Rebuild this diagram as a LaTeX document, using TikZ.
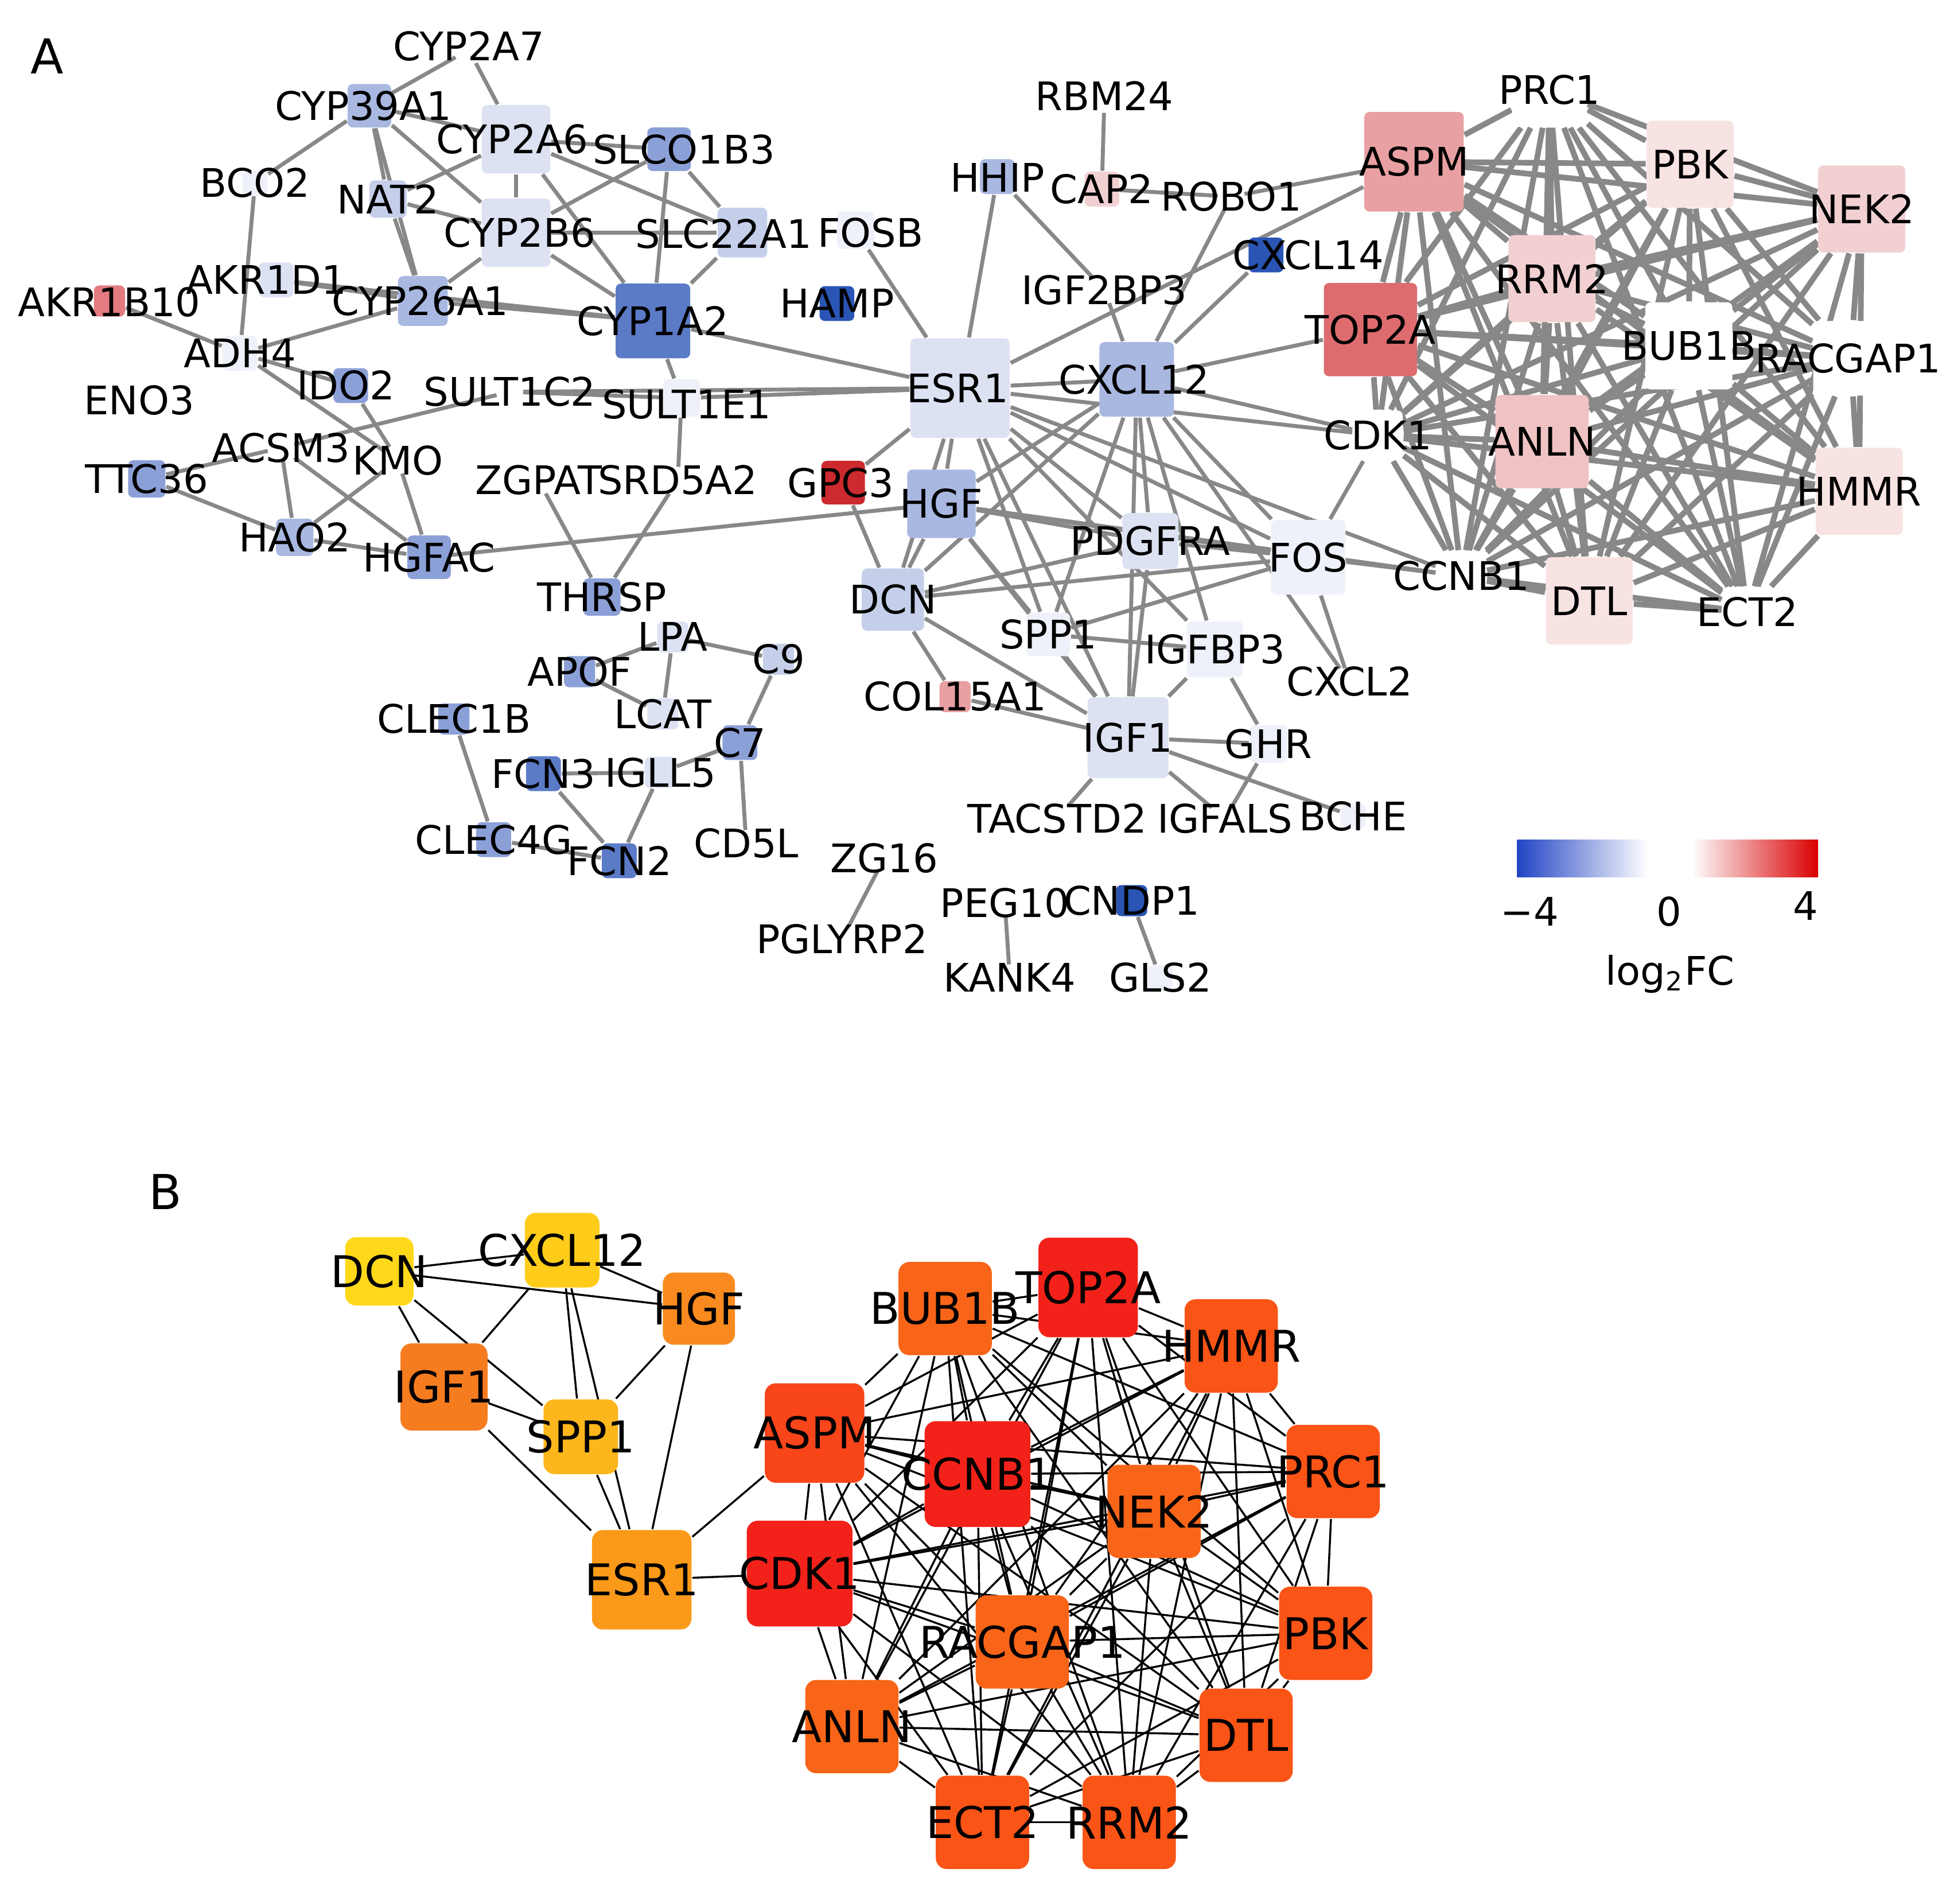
\documentclass[tikz,border=0pt]{standalone}
\usepackage{fontspec}
\setmainfont{DejaVu Sans}
\usetikzlibrary{backgrounds}
\definecolor{ea}{HTML}{888888}
\definecolor{bw}{HTML}{FFFFFF}
\definecolor{b1}{HTML}{EEF1F9}
\definecolor{b2}{HTML}{DCE2F2}
\definecolor{b3}{HTML}{C5CFEA}
\definecolor{b4}{HTML}{A9B8E1}
\definecolor{b5}{HTML}{8CA0D8}
\definecolor{b6}{HTML}{5B7BC7}
\definecolor{b7}{HTML}{2A55B5}
\definecolor{r1}{HTML}{F8E3E3}
\definecolor{r2}{HTML}{F2D0D1}
\definecolor{r3}{HTML}{EFC3C4}
\definecolor{r4}{HTML}{E8A0A2}
\definecolor{r5}{HTML}{DE6C6F}
\definecolor{r6}{HTML}{E37B80}
\definecolor{r7}{HTML}{CC2A2E}
\definecolor{oy}{HTML}{FFD81A}
\definecolor{oy2}{HTML}{FFCC1A}
\definecolor{oy3}{HTML}{FDB61C}
\definecolor{oo1}{HTML}{FB9A1A}
\definecolor{oo2}{HTML}{F98A1F}
\definecolor{oo3}{HTML}{F57C1F}
\definecolor{oo4}{HTML}{F86518}
\definecolor{oo5}{HTML}{FA5417}
\definecolor{oo6}{HTML}{F8451A}
\definecolor{rr}{HTML}{F2221A}
\tikzset{
 boxA/.style={rectangle,rounded corners=1.2pt,inner sep=0pt,draw=none},
 labA/.style={inner sep=0pt,font=\fontsize{9}{10}\selectfont},
 boxB/.style={rectangle,rounded corners=2.5pt,inner sep=0pt,draw=none},
 labB/.style={inner sep=0pt,font=\fontsize{10}{11}\selectfont},
 edgeA/.style={draw=ea,line width=0.9pt},
 edgeC/.style={draw=ea,line width=1.3pt},
 edgeB/.style={draw=black,line width=0.45pt}
}
\newcommand\gn[7]{\node[boxA,minimum size=#4*0.01cm,fill=#5] (#1) at (#2,#3) {};\node[labA] at (#6,#7) {#1};}
\newcommand\gb[5]{\node[boxB,minimum size=#4*0.01cm,fill=#5] (B#1) at (#2,#3) {};\node[labB] at (#2,#3) {#1};}
\begin{document}
\begin{tikzpicture}[x=0.01cm,y=-0.01cm]
\useasboundingbox (0,0) rectangle (1568,1530.6);
\node[font=\fontsize{11}{12}\selectfont] at (38,45) {A};
\node[font=\fontsize{11}{12}\selectfont] at (133,958) {B};
% panel A nodes
\gn{CYP2A7}{377}{40}{20}{bw}{377}{37}
\gn{CYP39A1}{297}{85}{35}{b4}{292}{85}
\gn{CYP2A6}{415}{112}{55}{b2}{412}{112}
\gn{SLCO1B3}{538}{120}{35}{b5}{550}{120}
\gn{BCO2}{205}{147}{20}{b1}{205}{147}
\gn{NAT2}{312}{160}{30}{b3}{312}{160}
\gn{CYP2B6}{415}{187}{55}{b2}{418}{187}
\gn{SLC22A1}{597}{187}{40}{b3}{582}{188}
\gn{FOSB}{688}{185}{30}{b1}{700}{187}
\gn{AKR1D1}{222}{225}{28}{b2}{214}{225}
\gn{CYP26A1}{340}{242}{40}{b4}{338}{242}
\gn{CYP1A2}{525}{258}{60}{b6}{525}{258}
\gn{HAMP}{673}{244}{28}{b7}{673}{244}
\gn{AKR1B10}{88}{242}{25}{r6}{88}{243}
\gn{ADH4}{193}{284}{28}{b1}{193}{284}
\gn{ENO3}{112}{322}{20}{bw}{112}{322}
\gn{IDO2}{282}{310}{28}{b5}{278}{310}
\gn{SULT1C2}{410}{315}{20}{bw}{410}{315}
\gn{SULT1E1}{548}{320}{30}{b1}{552}{325}
\gn{ESR1}{772}{312}{80}{b2}{770}{312}
\gn{CXCL12}{914}{305}{60}{b4}{912}{305}
\gn{HHIP}{802}{142}{28}{b4}{802}{143}
\gn{RBM24}{888}{80}{20}{bw}{888}{77}
\gn{CAP2}{886}{152}{28}{r2}{886}{152}
\gn{ROBO1}{990}{158}{20}{bw}{990}{158}
\gn{CXCL14}{1018}{205}{28}{b7}{1052}{205}
\gn{IGF2BP3}{888}{233}{20}{bw}{888}{233}
\gn{TOP2A}{1102}{265}{75}{r5}{1102}{265}
\gn{ASPM}{1137}{130}{80}{r4}{1137}{130}
\gn{PRC1}{1246}{72}{60}{bw}{1246}{72}
\gn{PBK}{1359}{132}{70}{r1}{1359}{132}
\gn{NEK2}{1497}{168}{70}{r2}{1497}{168}
\gn{RRM2}{1248}{224}{70}{r2}{1248}{224}
\gn{BUB1B}{1358}{278}{70}{bw}{1358}{278}
\gn{RACGAP1}{1488}{288}{60}{bw}{1486}{288}
\gn{ANLN}{1240}{355}{75}{r3}{1240}{355}
\gn{CDK1}{1108}{350}{40}{bw}{1108}{350}
\gn{HMMR}{1495}{395}{70}{r1}{1495}{395}
\gn{DTL}{1278}{483}{70}{r1}{1278}{483}
\gn{ECT2}{1405}{492}{40}{bw}{1405}{492}
\gn{CCNB1}{1175}{463}{40}{bw}{1175}{463}
\gn{FOS}{1052}{448}{60}{b1}{1052}{448}
\gn{PDGFRA}{925}{435}{45}{b2}{925}{435}
\gn{GPC3}{678}{388}{35}{r7}{676}{388}
\gn{HGF}{757}{405}{55}{b4}{757}{405}
\gn{DCN}{718}{482}{50}{b3}{718}{482}
\gn{SPP1}{843}{510}{35}{b1}{843}{510}
\gn{IGFBP3}{977}{522}{45}{b1}{977}{522}
\gn{CXCL2}{1085}{548}{20}{bw}{1085}{548}
\gn{COL15A1}{768}{560}{25}{r4}{768}{560}
\gn{IGF1}{907}{593}{65}{b2}{907}{593}
\gn{GHR}{1020}{598}{30}{b1}{1020}{598}
\gn{BCHE}{1088}{656}{20}{b1}{1088}{656}
\gn{TACSTD2}{850}{658}{20}{bw}{850}{658}
\gn{IGFALS}{985}{658}{20}{bw}{985}{658}
\gn{ZGPAT}{433}{386}{20}{bw}{433}{386}
\gn{SRD5A2}{545}{386}{20}{bw}{545}{386}
\gn{THRSP}{484}{480}{30}{b5}{484}{480}
\gn{LPA}{541}{512}{25}{b2}{541}{512}
\gn{C9}{626}{530}{25}{b3}{626}{530}
\gn{APOF}{466}{540}{25}{b5}{466}{540}
\gn{LCAT}{533}{574}{25}{b2}{533}{574}
\gn{C7}{595}{597}{28}{b5}{595}{597}
\gn{CLEC1B}{365}{578}{25}{b5}{365}{578}
\gn{FCN3}{437}{622}{28}{b6}{437}{622}
\gn{IGLL5}{531}{621}{25}{b2}{531}{621}
\gn{CD5L}{600}{678}{20}{bw}{600}{678}
\gn{CLEC4G}{397}{675}{28}{b5}{397}{675}
\gn{FCN2}{498}{692}{28}{b6}{498}{692}
\gn{ZG16}{711}{690}{20}{bw}{711}{690}
\gn{PGLYRP2}{677}{755}{20}{bw}{677}{755}
\gn{PEG10}{808}{726}{20}{bw}{808}{726}
\gn{CNDP1}{910}{724}{25}{b7}{910}{724}
\gn{KANK4}{812}{786}{20}{bw}{812}{786}
\gn{GLS2}{933}{786}{20}{b1}{933}{786}
\gn{ACSM3}{226}{360}{20}{bw}{226}{360}
\gn{KMO}{320}{370}{20}{bw}{320}{370}
\gn{TTC36}{118}{385}{30}{b5}{118}{385}
\gn{HAO2}{237}{432}{30}{b4}{237}{432}
\gn{HGFAC}{345}{448}{35}{b5}{345}{448}
% panel B nodes
\gb{DCN}{305}{1022}{55}{oy}
\gb{CXCL12}{452}{1005}{60}{oy2}
\gb{HGF}{562}{1052}{58}{oo2}
\gb{IGF1}{357}{1115}{70}{oo3}
\gb{SPP1}{467}{1155}{60}{oy3}
\gb{ESR1}{516}{1270}{80}{oo1}
\gb{BUB1B}{760}{1052}{75}{oo4}
\gb{TOP2A}{875}{1035}{80}{rr}
\gb{HMMR}{990}{1082}{75}{oo5}
\gb{ASPM}{655}{1152}{80}{oo6}
\gb{CCNB1}{786}{1185}{85}{rr}
\gb{NEK2}{928}{1215}{75}{oo4}
\gb{PRC1}{1072}{1183}{75}{oo5}
\gb{CDK1}{643}{1265}{85}{rr}
\gb{PBK}{1066}{1313}{75}{oo5}
\gb{RACGAP1}{822}{1320}{75}{oo4}
\gb{DTL}{1002}{1395}{75}{oo5}
\gb{ANLN}{685}{1388}{75}{oo4}
\gb{ECT2}{790}{1465}{75}{oo5}
\gb{RRM2}{908}{1465}{75}{oo5}
\begin{pgfonlayer}{background}
\foreach \a/\b in {CYP2A7/CYP2A6,CYP2A7/CYP39A1,CYP39A1/CYP2A6,CYP39A1/NAT2,CYP39A1/CYP2B6,CYP39A1/BCO2,CYP39A1/CYP26A1,CYP2A6/SLCO1B3,CYP2A6/CYP2B6,CYP2A6/CYP1A2,CYP2A6/NAT2,CYP2A6/SLC22A1,SLCO1B3/CYP1A2,SLCO1B3/SLC22A1,SLCO1B3/CYP2B6,NAT2/CYP2B6,NAT2/CYP26A1,CYP2B6/CYP1A2,CYP2B6/CYP26A1,CYP2B6/SLC22A1,SLC22A1/CYP1A2,BCO2/ADH4,AKR1D1/CYP26A1,AKR1D1/CYP1A2,CYP26A1/CYP1A2,CYP1A2/ESR1,CYP1A2/SULT1E1,AKR1B10/ADH4,ADH4/CYP26A1,ADH4/KMO,IDO2/KMO,ACSM3/TTC36,ACSM3/HAO2,ACSM3/HGFAC,ACSM3/SULT1C2,KMO/HAO2,KMO/HGFAC,TTC36/HAO2,HAO2/HGFAC,HGFAC/HGF,SULT1C2/ESR1,SULT1E1/ESR1,SULT1C2/SULT1E1,SULT1E1/SRD5A2,ZGPAT/THRSP,SRD5A2/THRSP,ESR1/HHIP,ESR1/CXCL12,ESR1/GPC3,ESR1/HGF,ESR1/DCN,ESR1/PDGFRA,ESR1/FOS,ESR1/CDK1,ESR1/SPP1,ESR1/IGF1,ESR1/IGFBP3,ESR1/CCNB1,ESR1/ASPM,ESR1/FOSB,CXCL12/CXCL14,CXCL12/TOP2A,CXCL12/IGF2BP3,IGF2BP3/HHIP,CAP2/ROBO1,RBM24/CAP2,ROBO1/ASPM,ROBO1/CXCL12,CXCL12/DCN,CXCL12/HGF,CXCL12/SPP1,CXCL12/IGF1,CXCL12/FOS,CXCL12/PDGFRA,CXCL12/CDK1,CXCL12/CXCL2,CXCL12/IGFBP3,HGF/PDGFRA,HGF/FOS,HGF/DCN,HGF/IGF1,HGF/SPP1,HGF/CCNB1,GPC3/DCN,DCN/PDGFRA,DCN/IGF1,DCN/COL15A1,DCN/FOS,PDGFRA/IGF1,PDGFRA/FOS,FOS/CDK1,FOS/CCNB1,FOS/CXCL2,FOS/SPP1,SPP1/IGF1,SPP1/IGFBP3,IGFBP3/IGF1,IGFBP3/GHR,IGF1/GHR,IGF1/TACSTD2,IGF1/IGFALS,IGF1/BCHE,COL15A1/IGF1,GHR/IGFALS,LPA/APOF,LPA/LCAT,LPA/C9,APOF/LCAT,C9/C7,C7/IGLL5,C7/CD5L,IGLL5/FCN3,IGLL5/FCN2,FCN3/FCN2,CLEC1B/CLEC4G,CLEC4G/FCN2,ZG16/PGLYRP2,PEG10/KANK4,CNDP1/GLS2,IDO2/ADH4}
  \draw[edgeA] (\a) -- (\b);
\foreach \a [count=\i] in {ASPM,TOP2A,PRC1,PBK,NEK2,RRM2,BUB1B,RACGAP1,ANLN,HMMR,DTL,ECT2,CCNB1,CDK1}{
  \foreach \b [count=\j] in {ASPM,TOP2A,PRC1,PBK,NEK2,RRM2,BUB1B,RACGAP1,ANLN,HMMR,DTL,ECT2,CCNB1,CDK1}{
    \ifnum\j>\i \draw[edgeC] (\a) -- (\b); \fi }}
\foreach \a/\b in {DCN/CXCL12,DCN/HGF,DCN/IGF1,DCN/SPP1,CXCL12/HGF,CXCL12/IGF1,CXCL12/SPP1,CXCL12/ESR1,HGF/SPP1,HGF/ESR1,IGF1/SPP1,IGF1/ESR1,SPP1/ESR1,ESR1/CDK1,ESR1/ASPM}
  \draw[edgeB] (B\a) -- (B\b);
\foreach \a [count=\i] in {BUB1B,TOP2A,HMMR,ASPM,CCNB1,NEK2,PRC1,CDK1,PBK,RACGAP1,DTL,ANLN,ECT2,RRM2}{
  \foreach \b [count=\j] in {BUB1B,TOP2A,HMMR,ASPM,CCNB1,NEK2,PRC1,CDK1,PBK,RACGAP1,DTL,ANLN,ECT2,RRM2}{
    \ifnum\j>\i \draw[edgeB] (B\a) -- (B\b); \fi }}
\end{pgfonlayer}
% legend
\shade[left color=b7!80!blue,right color=white] (1220,675) rectangle (1325,705);
\shade[left color=white,right color=red!85!black] (1360,675) rectangle (1462,705);
\node[labA] at (1230,733) {−4};
\node[labA] at (1342,733) {0};
\node[labA] at (1452,728) {4};
\node[labA] at (1343,783) {log\textsubscript{2}FC};
\end{tikzpicture}
\end{document}
